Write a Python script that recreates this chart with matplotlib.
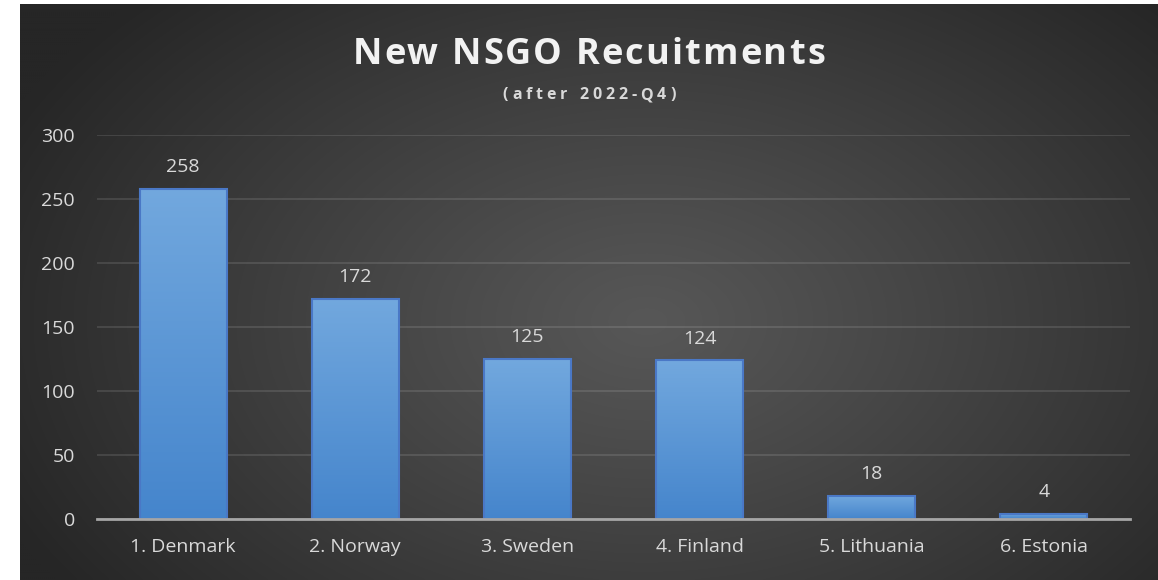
import numpy as np
import matplotlib
matplotlib.use("Agg")
import matplotlib.pyplot as plt
from matplotlib.colors import LinearSegmentedColormap
from matplotlib.font_manager import FontProperties

categories = ["1. Denmark", "2. Norway", "3. Sweden", "4. Finland", "5. Lithuania", "6. Estonia"]
values = [258, 172, 125, 124, 18, 4]
yticks = [0, 50, 100, 150, 200, 250, 300]
title = "New NSGO Recuitments"
subtitle = "(after 2022-Q4)"

W, H = 1158, 580
fig = plt.figure(figsize=(W / 100, H / 100), dpi=100)
fig.patch.set_facecolor("white")
FONT = "Open Sans"

# background radial gradient panel
bg = fig.add_axes([20 / W, 0, 1138 / W, 576 / H])
bg.set_axis_off()
ny, nx = 290, 569
yy, xx = np.mgrid[0:ny, 0:nx]
cx, cy = nx * 0.55, ny * 0.55
r = np.sqrt(((xx - cx) / (nx * 0.62)) ** 2 + ((yy - cy) / (ny * 0.80)) ** 2)
r = np.clip(r, 0, 1)
c0, c1 = 0x57 / 255, 0x26 / 255
val = c0 + (c1 - c0) * r ** 1.1
img = np.dstack([val, val, val])
bg.imshow(img, extent=[0, 1, 0, 1], aspect="auto", interpolation="bicubic")
bg.set_xlim(0, 1)
bg.set_ylim(0, 1)

ax = fig.add_axes([97 / W, 1 - 519 / H, (1130 - 97) / W, (519 - 135) / H])
ax.patch.set_alpha(0)
x = np.arange(len(categories))
bars = ax.bar(x, values, width=0.505, facecolor="none", edgecolor="#4a78c6", linewidth=1.5, zorder=3)
cmap = LinearSegmentedColormap.from_list("b", ["#4585cc", "#72a8de"])
grad = np.linspace(0, 1, 256).reshape(-1, 1)
for b in bars:
    x0, w, h = b.get_x(), b.get_width(), b.get_height()
    im = ax.imshow(grad, cmap=cmap, extent=[x0, x0 + w, 0, h], origin="lower",
                   aspect="auto", zorder=2, interpolation="bicubic")
    im.set_clip_path(b)
for xi, v in zip(x, values):
    ax.annotate(str(v), (xi, v), xytext=(0, 12), textcoords="offset points",
                ha="center", va="baseline", fontsize=14, color="#d9d9d9", family=FONT)

ax.set_xlim(-0.5, len(categories) - 0.5)
ax.set_ylim(0, 300)
ax.set_yticks(yticks)
ax.set_xticks(x)
ax.set_xticklabels(categories)
ax.yaxis.grid(True, color="white", alpha=0.11, linewidth=1.5, zorder=0)
ax.set_axisbelow(True)
for s in ["top", "right", "left"]:
    ax.spines[s].set_visible(False)
ax.spines["bottom"].set_color("#a6a6a6")
ax.spines["bottom"].set_linewidth(2)
ax.spines["bottom"].set_zorder(4)
ax.tick_params(axis="both", length=0, colors="#d9d9d9", labelsize=14)
ax.tick_params(axis="y", pad=16)
ax.tick_params(axis="x", pad=14)
for lab in ax.get_xticklabels() + ax.get_yticklabels():
    lab.set_family(FONT)

renderer = fig.canvas.get_renderer()


def spaced_text(s, cx_px, base_px, size, target_w, color):
    prop = FontProperties(family=FONT, weight="bold", size=size)

    def tw(t):
        w, _, _ = renderer.get_text_width_height_descent(t, prop, ismath=False)
        return w

    wx = tw("x")
    pref = [tw(s[:i] + "x") - wx if i > 0 else 0.0 for i in range(len(s))]
    natural = tw(s)
    sp = (target_w - natural) / (len(s) - 1)
    start = cx_px - target_w / 2
    for i, ch in enumerate(s):
        if ch == " ":
            continue
        xp = start + pref[i] + i * sp
        fig.text(xp / W, 1 - base_px / H, ch, ha="left", va="baseline",
                 fontproperties=prop, color=color)


spaced_text(title, 589, 64, 26, 472, "#f2f2f2")
spaced_text(subtitle, 589, 99, 11.5, 173, "#d9d9d9")

fig.savefig("out.png", dpi=100)
